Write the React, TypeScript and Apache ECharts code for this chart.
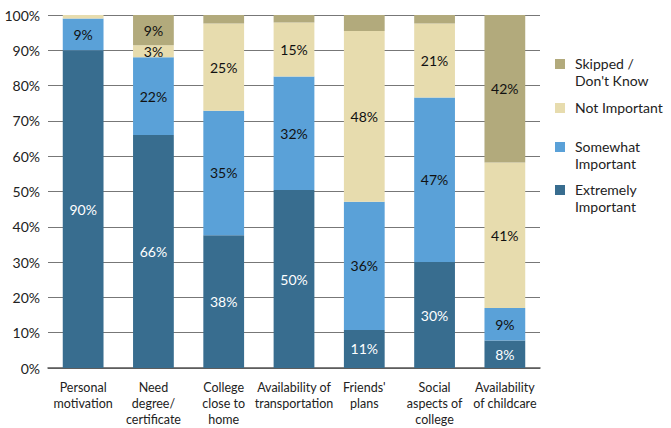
import React, { useEffect, useRef } from "react";
import * as echarts from "echarts";

const categories = [
  "Personal\nmotivation",
  "Need\ndegree/\ncertificate",
  "College\nclose to\nhome",
  "Availability of\ntransportation",
  "Friends'\nplans",
  "Social\naspects of\ncollege",
  "Availability\nof childcare",
];
const extremely = [90, 66, 37.6, 50.4, 10.8, 30, 7.8];
const somewhat = [9, 22, 35.3, 32.2, 36.3, 46.6, 9.2];
const notImportant = [1, 3.4, 24.7, 15.3, 48.4, 21, 41.2];
const skipped = [0, 8.6, 2.4, 2.1, 4.5, 2.4, 41.8];
// labels hidden for these small segments
const hideNot = [true, false, false, false, false, false, false];
const hideSkip = [true, false, true, true, true, true, false];
const yTicks = [0, 10, 20, 30, 40, 50, 60, 70, 80, 90, 100];

const FONT = "Lato, 'Open Sans', sans-serif";
const COLORS = {
  extremely: "#386d8f",
  somewhat: "#5aa1d8",
  notImportant: "#e7dcae",
  skipped: "#b2aa7c",
};

const legendItems = [
  { name: "Skipped /\nDon't Know", color: COLORS.skipped, y: 59 },
  { name: "Not Important", color: COLORS.notImportant, y: 103 },
  { name: "Somewhat\nImportant", color: COLORS.somewhat, y: 142 },
  { name: "Extremely\nImportant", color: COLORS.extremely, y: 185 },
];

export default function App() {
  const ref = useRef<HTMLDivElement>(null);
  useEffect(() => {
    document.body.style.margin = "0";
    if (!ref.current) return;
    const chart = echarts.init(ref.current, null, { renderer: "svg" });
    const mk = (
      name: string,
      vals: number[],
      color: string,
      textColor: string,
      hide?: boolean[]
    ) => ({
      name,
      type: "bar",
      stack: "total",
      barWidth: "58%",
      itemStyle: { color },
      data: vals.map((v, i) => ({
        value: v,
        label: hide && hide[i] ? { show: false } : undefined,
      })),
      label: {
        show: true,
        position: "inside",
        color: textColor,
        fontFamily: FONT,
        fontSize: 14,
        formatter: (p: any) => Math.round(p.value) + "%",
      },
    });
    chart.setOption({
      animation: false,
      grid: { left: 48, right: 131, top: 15, bottom: 60, containLabel: false },
      xAxis: {
        type: "category",
        data: categories,
        axisTick: { show: false },
        axisLine: { lineStyle: { color: "#555", width: 1.5 } },
        axisLabel: {
          interval: 0,
          color: "#222",
          fontFamily: FONT,
          fontSize: 12.5,
          lineHeight: 16,
          margin: 11,
        },
      },
      yAxis: {
        type: "value",
        min: 0,
        max: 100,
        interval: 10,
        axisLabel: {
          color: "#222",
          fontFamily: FONT,
          fontSize: 14,
          margin: 8,
          formatter: (v: number) => (yTicks.includes(v) ? v + "%" : ""),
        },
        splitLine: { lineStyle: { color: "#777", width: 1 } },
        axisLine: { show: false },
        axisTick: { show: false },
      },
      graphic: legendItems.flatMap((it) => [
        {
          type: "rect",
          shape: { x: 555, y: it.y, width: 10, height: 10 },
          style: { fill: it.color },
        },
        {
          type: "text",
          x: 575,
          y: it.y - 4,
          style: {
            text: it.name,
            fill: "#222",
            font: `14px ${FONT}`,
            lineHeight: 17,
          },
        },
      ]),
      series: [
        mk("Extremely Important", extremely, COLORS.extremely, "#fff"),
        mk("Somewhat Important", somewhat, COLORS.somewhat, "#111"),
        mk("Not Important", notImportant, COLORS.notImportant, "#111", hideNot),
        mk("Skipped / Don't Know", skipped, COLORS.skipped, "#111", hideSkip),
      ],
    });
    return () => chart.dispose();
  }, []);
  return <div ref={ref} style={{ width: 671, height: 428 }} />;
}
